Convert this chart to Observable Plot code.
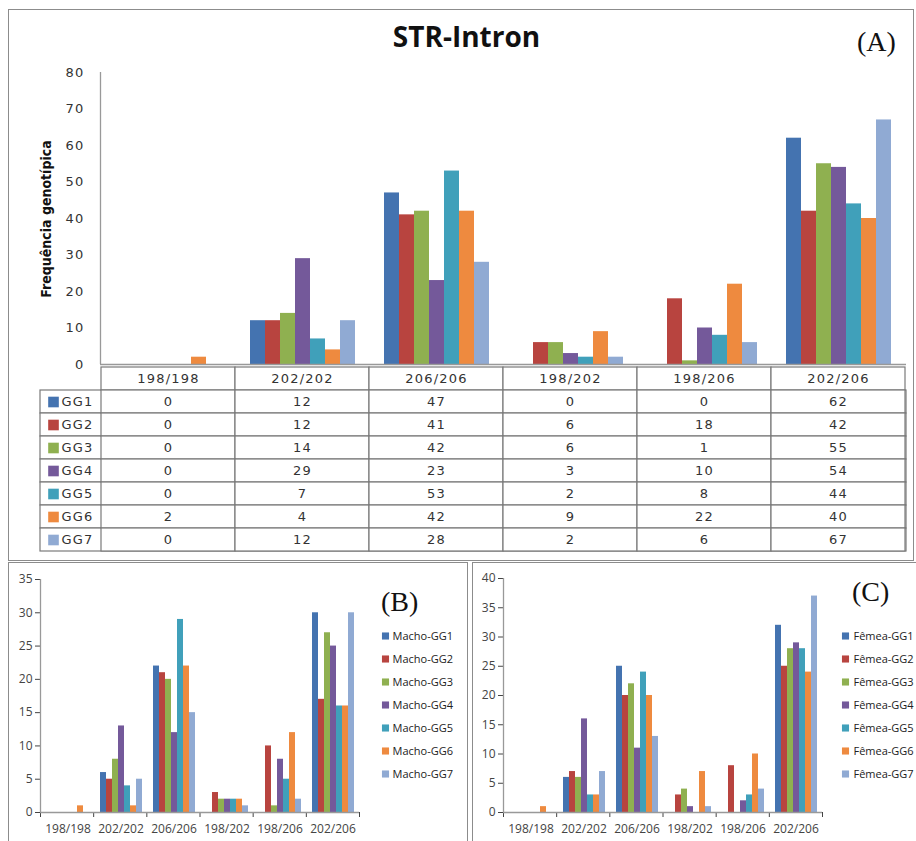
<!DOCTYPE html>
<html><head><meta charset="utf-8">
<script src="https://cdn.jsdelivr.net/npm/d3@7"></script>
<script src="https://cdn.jsdelivr.net/npm/@observablehq/plot@0.6"></script>
<style>
html,body{margin:0;padding:0;background:#fff;overflow:hidden}
#page{position:relative;width:916px;height:841px;background:#fff;overflow:hidden}
#page svg{position:absolute;left:0;top:0;max-width:none}
.panel{position:absolute;border:1px solid #8c8c8c;box-sizing:border-box}
.tag{position:absolute;font-family:"Liberation Serif","DejaVu Serif",serif;font-size:28px;line-height:28px;color:#111;white-space:nowrap}
#title{position:absolute;left:0;width:933px;top:22px;text-align:center;font-family:"Open Sans",sans-serif;font-weight:700;font-size:28px;line-height:28px;color:#111}
#ylab{position:absolute;left:-54px;top:211px;width:200px;height:16px;line-height:16px;text-align:center;transform:rotate(-90deg);font-family:"Liberation Sans Narrow","DejaVu Sans Condensed",sans-serif;font-weight:700;font-size:14px;color:#111;white-space:nowrap}
</style></head>
<body><div id="page">
<div class="panel" style="left:8px;top:9px;width:906px;height:552px"></div>
<div class="panel" style="left:8px;top:562px;width:460px;height:300px"></div>
<div class="panel" style="left:472px;top:562px;width:460px;height:300px"></div>
<div id="title">STR-Intron</div>
<div class="tag" style="left:857px;top:28px">(A)</div>
<div class="tag" style="left:381px;top:588px">(B)</div>
<div class="tag" style="left:852px;top:578px">(C)</div>
<div id="ylab">Frequência genotípica</div>
</div>
<script>
const categories = ["198/198", "202/202", "206/206", "198/202", "198/206", "202/206"];
const series = ["GG1", "GG2", "GG3", "GG4", "GG5", "GG6", "GG7"];
const colors = ["#4473B0", "#B8443F", "#8FB050", "#74599A", "#40A0BA", "#EE8A3F", "#90AAD3"];

// (A) total genotype frequencies
const totalGG1 = [0, 12, 47, 0, 0, 62];
const totalGG2 = [0, 12, 41, 6, 18, 42];
const totalGG3 = [0, 14, 42, 6, 1, 55];
const totalGG4 = [0, 29, 23, 3, 10, 54];
const totalGG5 = [0, 7, 53, 2, 8, 44];
const totalGG6 = [2, 4, 42, 9, 22, 40];
const totalGG7 = [0, 12, 28, 2, 6, 67];

// (B) males
const machoGG1 = [0, 6, 22, 0, 0, 30];
const machoGG2 = [0, 5, 21, 3, 10, 17];
const machoGG3 = [0, 8, 20, 2, 1, 27];
const machoGG4 = [0, 13, 12, 2, 8, 25];
const machoGG5 = [0, 4, 29, 2, 5, 16];
const machoGG6 = [1, 1, 22, 2, 12, 16];
const machoGG7 = [0, 5, 15, 1, 2, 30];

// (C) females
const femeaGG1 = [0, 6, 25, 0, 0, 32];
const femeaGG2 = [0, 7, 20, 3, 8, 25];
const femeaGG3 = [0, 6, 22, 4, 0, 28];
const femeaGG4 = [0, 16, 11, 1, 2, 29];
const femeaGG5 = [0, 3, 24, 0, 3, 28];
const femeaGG6 = [1, 3, 20, 7, 10, 24];
const femeaGG7 = [0, 7, 13, 1, 4, 37];

const yTicksA = [0, 10, 20, 30, 40, 50, 60, 70, 80];
const yTicksB = [0, 5, 10, 15, 20, 25, 30, 35];
const yTicksC = [0, 5, 10, 15, 20, 25, 30, 35, 40];
const machoLabels = ["Macho-GG1", "Macho-GG2", "Macho-GG3", "Macho-GG4", "Macho-GG5", "Macho-GG6", "Macho-GG7"];
const femeaLabels = ["Fêmea-GG1", "Fêmea-GG2", "Fêmea-GG3", "Fêmea-GG4", "Fêmea-GG5", "Fêmea-GG6", "Fêmea-GG7"];

const totals = [totalGG1, totalGG2, totalGG3, totalGG4, totalGG5, totalGG6, totalGG7];
const machos = [machoGG1, machoGG2, machoGG3, machoGG4, machoGG5, machoGG6, machoGG7];
const femeas = [femeaGG1, femeaGG2, femeaGG3, femeaGG4, femeaGG5, femeaGG6, femeaGG7];

const toRows = (arrs) => series.flatMap((s, i) => categories.map((c, j) => ({cat: c, s, v: arrs[i][j]})));
const rowsA = toRows(totals), rowsB = toRows(machos), rowsC = toRows(femeas);

const W = 916, H = 841;
const page = document.getElementById("page");
const add = (svg) => { page.appendChild(svg); };

const styleA = {fontFamily: "'DejaVu Sans', sans-serif", fontSize: "13px", letterSpacing: "1.2px", color: "#333", background: "transparent", overflow: "visible"};
const styleBC = {fontFamily: "'Open Sans', sans-serif", fontSize: "12px", color: "#444", background: "transparent", overflow: "visible"};

function barsPlot({data, x0, x1, yBase, yTop, ymax, fxAxis, padOuter, style}) {
  return Plot.plot({
    width: W, height: H,
    marginLeft: x0, marginRight: W - x1, marginTop: yTop, marginBottom: H - yBase,
    facet: {data, x: "cat"},
    fx: {domain: categories, padding: 0, label: null, axis: fxAxis ? "bottom" : null, tickSize: 0, tickPadding: 12},
    x: {domain: series, axis: null, paddingInner: 0, paddingOuter: padOuter},
    y: {domain: [0, ymax], axis: null},
    color: {domain: series, range: colors},
    style,
    marks: [Plot.barY(data, {x: "s", y: "v", fill: "s"})]
  });
}

function axesPlot({x0, x1, yBase, yTop, ymax, yTicks, boundary, tickSize, tickPadding, style}) {
  return Plot.plot({
    width: W, height: H,
    marginLeft: x0, marginRight: W - x1, marginTop: yTop, marginBottom: H - yBase,
    x: {domain: [0, categories.length], axis: boundary ? "bottom" : null, ticks: d3.range(categories.length + 1), tickFormat: () => "", tickSize: 5, label: null},
    y: {domain: [0, ymax], ticks: yTicks, tickSize, tickPadding, label: null},
    style,
    marks: [
      Plot.ruleX([0], {stroke: "#999", strokeWidth: 1.3}),
      Plot.ruleY([0], {stroke: "#999", strokeWidth: 1.3})
    ]
  });
}

function legendPlot(labels, x0, dx) {
  return Plot.plot({
    width: W, height: H,
    marginLeft: x0, marginRight: W - x0 - 80, marginTop: 622, marginBottom: H - 787,
    x: {axis: null}, y: {type: "band", domain: labels, padding: 0, axis: null},
    color: {domain: labels, range: colors},
    style: {...styleBC, fontSize: "11px", color: "#222"},
    marks: [
      Plot.dot(labels, {y: d => d, fill: d => d, symbol: "square", r: 4, frameAnchor: "left"}),
      Plot.text(labels, {y: d => d, text: d => d, frameAnchor: "left", textAnchor: "start", dx})
    ]
  });
}

// ---- Panel A ----
add(barsPlot({data: rowsA, x0: 100, x1: 906, yBase: 364, yTop: 72, ymax: 80, fxAxis: false, padOuter: 0.72, style: styleA}));

const tableRows = ["hdr", ...series];
const tableCells = tableRows.flatMap(r => categories.map(c => ({cat: c, row: r})));
add(Plot.plot({
  width: W, height: H,
  marginLeft: 40, marginRight: W - 906, marginTop: 364, marginBottom: H - 553,
  x: {type: "band", domain: categories, range: [100, 906], padding: 0, axis: null},
  y: {type: "band", domain: tableRows, padding: 0, axis: null},
  color: {domain: series, range: colors},
  style: styleA,
  marks: [
    Plot.cell(series, {y: d => d, fill: "white", stroke: "#7a7a7a", strokeWidth: 1.2}),
    Plot.cell(tableCells, {x: "cat", y: "row", fill: "white", stroke: "#7a7a7a", strokeWidth: 1.2}),
    Plot.text(categories, {x: d => d, y: () => "hdr", text: d => d, fill: "#333"}),
    Plot.text(rowsA, {x: "cat", y: "s", text: d => String(d.v), fill: "#333"}),
    Plot.dot(series, {y: d => d, fill: d => d, symbol: "square", r: 6, frameAnchor: "left", dx: 13}),
    Plot.text(series, {y: d => d, text: d => d, frameAnchor: "left", textAnchor: "start", dx: 21, fill: "#333"})
  ]
}));

add(axesPlot({x0: 100, x1: 906, yBase: 364, yTop: 72, ymax: 80, yTicks: yTicksA, boundary: false, tickSize: 0, tickPadding: 16, style: styleA}));

// ---- Panel B ----
add(barsPlot({data: rowsB, x0: 40, x1: 359, yBase: 812, yTop: 579, ymax: 35, fxAxis: true, padOuter: 0.73, style: styleBC}));
add(axesPlot({x0: 40, x1: 359, yBase: 812, yTop: 579, ymax: 35, yTicks: yTicksB, boundary: true, tickSize: 5, tickPadding: 3, style: styleBC}));
add(legendPlot(machoLabels, 385, 7));

// ---- Panel C ----
add(barsPlot({data: rowsC, x0: 503, x1: 822, yBase: 812, yTop: 578, ymax: 40, fxAxis: true, padOuter: 0.73, style: styleBC}));
add(axesPlot({x0: 503, x1: 822, yBase: 812, yTop: 578, ymax: 40, yTicks: yTicksC, boundary: true, tickSize: 5, tickPadding: 3, style: styleBC}));
add(legendPlot(femeaLabels, 845, 8));
</script>
</body></html>
